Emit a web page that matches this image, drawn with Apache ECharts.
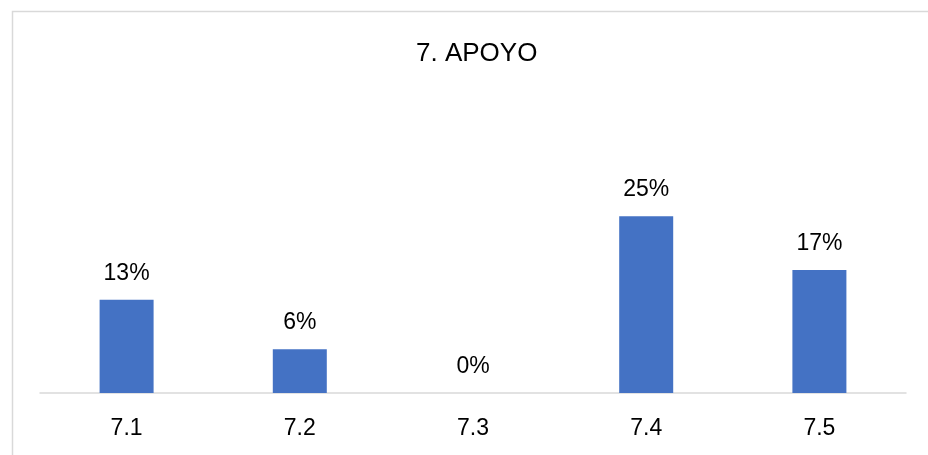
<!DOCTYPE html>
<html>
<head>
<meta charset="utf-8">
<script src="https://cdn.jsdelivr.net/npm/echarts@6/dist/echarts.min.js"></script>
<style>
html,body{margin:0;padding:0;background:#fff;}
#chart{width:928px;height:455px;}
</style>
</head>
<body>
<div id="chart"></div>
<script>
const titleText = '7. APOYO';
const categories = ['7.1', '7.2', '7.3', '7.4', '7.5'];
const values = [13.2, 6.2, 0, 25, 17.4];

const chart = echarts.init(document.getElementById('chart'), null, {renderer: 'canvas'});
const FONT = '"Liberation Sans", Arial, sans-serif';
chart.setOption({
  animation: false,
  backgroundColor: '#ffffff',
  title: {
    text: titleText,
    left: 411,
    top: 36,
    textStyle: {fontFamily: FONT, fontSize: 26, fontWeight: 'normal', color: '#000000'}
  },
  graphic: [{
    type: 'rect',
    left: 10, top: 9,
    shape: {x: 0, y: 0, width: 940, height: 470},
    style: {fill: 'none', stroke: '#d9d9d9', lineWidth: 1.5},
    silent: true
  }],
  grid: {left: 40, right: 22, top: 181, bottom: 62, outerBoundsMode: 'none', containLabel: false},
  xAxis: {
    type: 'category',
    data: categories,
    axisTick: {show: false},
    axisLine: {lineStyle: {color: '#d9d9d9', width: 1.5}},
    axisLabel: {fontFamily: FONT, fontSize: 23, color: '#000000', margin: 24}
  },
  yAxis: {
    type: 'value',
    min: 0, max: 30,
    show: false,
    splitLine: {show: false}
  },
  series: [{
    type: 'bar',
    data: values,
    barWidth: 54,
    itemStyle: {color: '#4472C4'},
    label: {
      show: true,
      position: 'top',
      distance: 15,
      fontFamily: FONT,
      fontSize: 23,
      color: '#000000',
      formatter: p => Math.round(p.value) + '%'
    }
  }]
});
</script>
</body>
</html>
